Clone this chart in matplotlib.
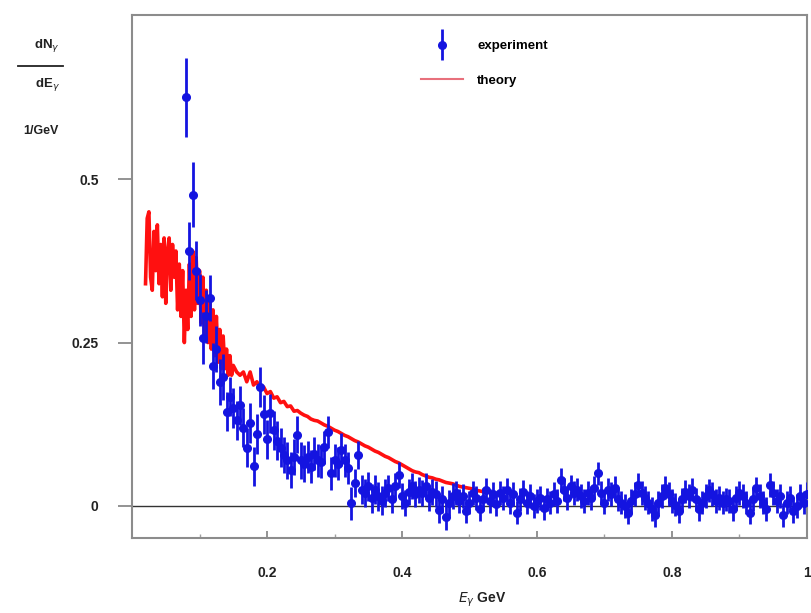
import matplotlib.pyplot as plt
import numpy as np
from matplotlib.lines import Line2D
from matplotlib.legend_handler import HandlerErrorbar
from matplotlib.container import ErrorbarContainer

plt.rcParams['font.family'] = ['Liberation Sans', 'DejaVu Sans']

# theory curve: fine sampling (0.0025 GeV) at low energy, then 0.005 GeV
theory_low_start = 0.020
theory_low_step = 0.0025
theory_low = [
    0.34, 0.44, 0.45, 0.35, 0.33, 0.42, 0.36, 0.43, 0.34, 0.40,
    0.32, 0.41, 0.31, 0.39, 0.41, 0.33, 0.40, 0.35, 0.39, 0.30,
    0.37, 0.29, 0.36, 0.25, 0.33, 0.27, 0.37, 0.29, 0.39, 0.30,
    0.38, 0.31, 0.36, 0.28, 0.35, 0.26, 0.33, 0.25, 0.32, 0.24,
    0.30, 0.23, 0.29, 0.22, 0.27, 0.21, 0.26, 0.21, 0.24, 0.20,
    0.23, 0.20,
]
theory_high_start = 0.150
theory_high_step = 0.005
theory_high = [
    0.215, 0.205, 0.20, 0.205, 0.19, 0.205, 0.185, 0.19, 0.18, 0.182,
    0.172, 0.175, 0.165, 0.167, 0.158, 0.16, 0.152, 0.153, 0.145, 0.146,
    0.142, 0.139, 0.137, 0.133, 0.131, 0.130, 0.127, 0.124, 0.122, 0.119,
    0.116, 0.114, 0.111, 0.108, 0.106, 0.103, 0.100, 0.098, 0.095, 0.092,
    0.090, 0.087, 0.084, 0.082, 0.079, 0.076, 0.074, 0.071, 0.068, 0.066,
    0.063, 0.060, 0.057, 0.054, 0.052, 0.051, 0.048, 0.046, 0.044, 0.043,
    0.041, 0.040, 0.038, 0.036, 0.035, 0.034, 0.032, 0.030, 0.029, 0.028,
    0.027, 0.026, 0.024, 0.023, 0.022, 0.021, 0.021, 0.020, 0.019, 0.019,
    0.018,
]

# experiment, bins every 0.005 GeV starting at 0.080 GeV
exp_start = 0.080
exp_step = 0.005
experiment = [
    0.625, 0.39, 0.476, 0.36, 0.315, 0.257, 0.29, 0.318, 0.214, 0.24,
    0.19, 0.197, 0.144, 0.167, 0.15, 0.131, 0.154, 0.12, 0.089, 0.127,
    0.061, 0.11, 0.182, 0.14, 0.102, 0.142, 0.116, 0.10, 0.089, 0.078,
    0.07, 0.055, 0.075, 0.109, 0.07, 0.065, 0.075, 0.06, 0.08, 0.07,
    0.068, 0.09, 0.113, 0.05, 0.07, 0.065, 0.086, 0.07, 0.058, 0.004,
    0.035, 0.078, 0.025, 0.02, 0.03, 0.012, 0.025, 0.015, 0.008, 0.02,
    0.028, 0.01, 0.03, 0.047, 0.015, 0.005, 0.022, 0.03, 0.018, 0.025,
    0.02, 0.03, 0.012, 0.022, 0.018, -0.006, 0.01, -0.017, 0.005, 0.015,
    0.02, 0.008, 0.015, -0.008, 0.005, 0.02, 0.012, -0.005, 0.01, 0.025,
    0.008, 0.018, 0.003, 0.02, 0.012, 0.025, 0.005, 0.018, -0.01, 0.01,
    0.022, 0.005, 0.015, 0.0, 0.008, 0.012, -0.003, 0.01, 0.005, 0.018,
    0.008, 0.04, 0.025, 0.012, 0.03, 0.02, 0.025, 0.015, 0.008, 0.02,
    0.012, 0.028, 0.05, 0.02, 0.005, 0.025, 0.018, 0.028, 0.01, 0.005,
    0.0, -0.01, 0.008, 0.018, 0.032, 0.02, 0.012, 0.005, -0.005, -0.014,
    0.005, 0.015, 0.028, 0.018, 0.008, 0.002, -0.008, 0.01, 0.022, 0.015,
    0.025, 0.01, -0.005, 0.005, 0.015, 0.024, 0.018, 0.008, 0.012, 0.005,
    0.01, 0.008, -0.005, 0.012, 0.02, 0.015, 0.005, -0.01, 0.01, 0.027,
    0.015, 0.005, -0.005, 0.032, 0.02, 0.008, 0.015, -0.014, 0.005, 0.012,
    -0.008, 0.0, 0.015, 0.005, 0.018,
]
exp_err = [
    0.06, 0.045, 0.05, 0.045, 0.04, 0.04, 0.04, 0.035, 0.035, 0.035,
    0.035, 0.035, 0.03, 0.03, 0.03, 0.03, 0.03, 0.03, 0.03, 0.03,
    0.03, 0.03, 0.03, 0.03, 0.03, 0.03, 0.03, 0.03, 0.03, 0.028,
    0.028, 0.028, 0.028, 0.028, 0.028, 0.028, 0.025, 0.025, 0.025, 0.025,
    0.025, 0.025, 0.025, 0.025, 0.025, 0.025, 0.025, 0.025, 0.025, 0.025,
    0.022, 0.022, 0.022, 0.022, 0.022, 0.022, 0.022, 0.022, 0.022, 0.022,
    0.02, 0.02, 0.02, 0.02, 0.02, 0.02, 0.02, 0.02, 0.02, 0.02,
    0.02, 0.02, 0.02, 0.02, 0.02, 0.02, 0.02, 0.02, 0.02, 0.02,
    0.018, 0.018, 0.018, 0.018, 0.018, 0.018, 0.018, 0.018, 0.018, 0.018,
    0.018, 0.018, 0.018, 0.018, 0.018, 0.018, 0.018, 0.018, 0.018, 0.018,
    0.018, 0.018, 0.018, 0.018, 0.018, 0.018, 0.018, 0.018, 0.018, 0.018,
    0.018, 0.018, 0.018, 0.018, 0.018, 0.018, 0.018, 0.018, 0.018, 0.018,
    0.018, 0.018, 0.018, 0.018, 0.018, 0.018, 0.018, 0.018, 0.018, 0.018,
    0.018, 0.018, 0.018, 0.018, 0.018, 0.018, 0.018, 0.018, 0.018, 0.018,
    0.018, 0.018, 0.018, 0.018, 0.018, 0.018, 0.018, 0.018, 0.018, 0.018,
    0.018, 0.018, 0.018, 0.018, 0.018, 0.018, 0.018, 0.018, 0.018, 0.018,
    0.018, 0.018, 0.018, 0.018, 0.018, 0.018, 0.018, 0.018, 0.018, 0.018,
    0.018, 0.018, 0.018, 0.018, 0.018, 0.018, 0.018, 0.018, 0.018, 0.018,
    0.018, 0.018, 0.018, 0.018, 0.018,
]

x_ticks = [0.2, 0.4, 0.6, 0.8, 1.0]
x_ticklabels = ['0.2', '0.4', '0.6', '0.8', '1']
y_ticks = [0, 0.25, 0.5]
y_ticklabels = ['0', '0.25', '0.5']

theory_e = np.concatenate([
    theory_low_start + theory_low_step * np.arange(len(theory_low)),
    theory_high_start + theory_high_step * np.arange(len(theory_high)),
])
theory = theory_low + theory_high
exp_e = exp_start + exp_step * np.arange(len(experiment))

fig = plt.figure(figsize=(8.11, 6.13), dpi=100)
ax = fig.add_axes([0.1628, 0.1223, 0.8322, 0.8532])

ax.axhline(0, color='#333333', linewidth=1.0, zorder=1)

ax.plot(theory_e, theory, color='#ff1010', linewidth=2.6, zorder=2)
eb = ax.errorbar(exp_e, experiment, yerr=exp_err, fmt='o', color='#1414e0',
                 markersize=5.5, elinewidth=2, capsize=0, zorder=3)

ax.set_xlim(0, 1.0)
ax.set_ylim(-0.049, 0.751)

ax.set_xticks(x_ticks)
ax.set_xticklabels(x_ticklabels)
ax.set_xticks(np.arange(0.1, 1.0, 0.2), minor=True)
ax.set_yticks(y_ticks)
ax.set_yticklabels(y_ticklabels)
ax.tick_params(axis='x', which='major', direction='in', length=5, width=1.2,
               color='#808080', pad=20, labelsize=10)
ax.tick_params(axis='x', which='minor', direction='in', length=3, width=1.0,
               color='#a0a0a0')
ax.tick_params(axis='y', direction='out', length=10, width=1.2,
               color='#808080', pad=14, labelsize=10)
for lab in ax.get_xticklabels() + ax.get_yticklabels():
    lab.set_fontweight('bold')
    lab.set_color('#222222')

for s in ax.spines.values():
    s.set_color('#8c8c8c')
    s.set_linewidth(1.5)

# y axis label as a fraction at the top left
fig.text(0.058, 0.925, r'dN$_\gamma$', fontsize=9.5, fontweight='bold',
         ha='center', va='center', color='#222222')
fig.add_artist(Line2D([0.022, 0.078], [0.893, 0.893], color='#222222',
                      linewidth=1.3, transform=fig.transFigure))
fig.text(0.058, 0.862, r'dE$_\gamma$', fontsize=9.5, fontweight='bold',
         ha='center', va='center', color='#222222')
fig.text(0.05, 0.787, '1/GeV', fontsize=9, fontweight='bold',
         ha='center', va='center', color='#222222')

fig.text(0.595, 0.022, r'$E_\gamma$ GeV', fontsize=10, fontweight='bold',
         ha='center', va='center', color='#222222')

theory_handle = Line2D([], [], color='#e8707c', linewidth=1.5)
ax.legend([eb, theory_handle], ['experiment', 'theory'], loc='upper left',
          bbox_to_anchor=(0.41, 0.975), frameon=False, handlelength=3.2,
          handletextpad=1.1, labelspacing=1.7,
          handler_map={ErrorbarContainer: HandlerErrorbar(yerr_size=1.2)},
          prop={'weight': 'bold', 'size': 9.5})

fig.savefig('out.png', dpi=100)
